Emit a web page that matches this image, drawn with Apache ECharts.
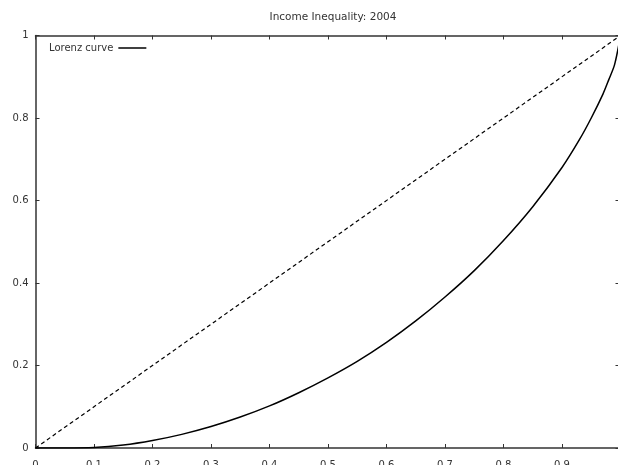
<!DOCTYPE html>
<html>
<head>
<meta charset="utf-8">
<script src="https://cdn.jsdelivr.net/npm/echarts@6/dist/echarts.min.js"></script>
<style>html,body{margin:0;padding:0;background:#fff;overflow:hidden;}#c{width:618px;height:465px;}</style>
</head>
<body>
<div id="c"></div>
<script>
var titleText = 'Income Inequality: 2004';
var seriesName = 'Lorenz curve';
var popShare = [0, 0.05, 0.1, 0.15, 0.2, 0.25, 0.3, 0.35, 0.4, 0.45, 0.5, 0.55, 0.6, 0.65, 0.7, 0.75, 0.8, 0.85, 0.9, 0.93, 0.95, 0.97, 0.98, 0.99, 1.0];
var incomeShare = [0, 0, 0.001, 0.007, 0.018, 0.033, 0.052, 0.075, 0.102, 0.134, 0.170, 0.210, 0.256, 0.308, 0.366, 0.430, 0.503, 0.585, 0.680, 0.748, 0.800, 0.858, 0.893, 0.930, 1.0];
var equalityX = [0, 1];
var equalityY = [0, 1];
var xTicks = [0, 0.1, 0.2, 0.3, 0.4, 0.5, 0.6, 0.7, 0.8, 0.9];
var yTicks = [0, 0.2, 0.4, 0.6, 0.8, 1];

function pairs(xs, ys) { return xs.map(function (x, i) { return [x, ys[i]]; }); }

var font = 'DejaVu Sans';
var axisLineStyle = { color: '#333', width: 1.5 };
var chart = echarts.init(document.getElementById('c'));
chart.setOption({
  animation: false,
  backgroundColor: '#fff',
  textStyle: { fontFamily: font },
  title: {
    text: titleText, left: 328, top: 7, textAlign: 'center',
    textStyle: { fontFamily: font, fontSize: 10.5, fontWeight: 'normal', color: '#333' }
  },
  legend: {
    data: [{ name: seriesName, icon: 'rect' }], left: 44, top: 38, align: 'right',
    itemWidth: 28, itemHeight: 1.5, itemGap: 4,
    textStyle: { fontFamily: font, fontSize: 10, color: '#333' }
  },
  grid: { left: 35.5, right: -2.5, top: 35.5, bottom: 17, containLabel: false, outerBoundsMode: 'none' },
  xAxis: [{
    type: 'value', min: 0, max: 1, interval: 0.1, position: 'bottom',
    axisLine: { show: true, onZero: false, lineStyle: axisLineStyle },
    axisTick: { show: true, inside: true, length: 4, lineStyle: { color: '#333' } },
    axisLabel: { show: true, margin: 12, fontSize: 10, color: '#333', fontFamily: font, showMaxLabel: false,
      formatter: function (v) { var r = Math.round(v * 10) / 10; return xTicks.indexOf(r) >= 0 ? String(r) : ''; } },
    splitLine: { show: false }
  }, {
    type: 'value', min: 0, max: 1, interval: 0.1, position: 'top',
    axisLine: { show: true, onZero: false, lineStyle: axisLineStyle },
    axisTick: { show: true, inside: true, length: 4, lineStyle: { color: '#333' } },
    axisLabel: { show: false }, splitLine: { show: false }
  }],
  yAxis: [{
    type: 'value', min: 0, max: 1, interval: 0.2, position: 'left',
    axisLine: { show: true, onZero: false, lineStyle: axisLineStyle },
    axisTick: { show: true, inside: true, length: 4, lineStyle: { color: '#333' } },
    axisLabel: { show: true, margin: 7, fontSize: 10, color: '#333', fontFamily: font,
      formatter: function (v) { var r = Math.round(v * 10) / 10; return yTicks.indexOf(r) >= 0 ? String(r) : ''; } },
    splitLine: { show: false }
  }, {
    type: 'value', min: 0, max: 1, interval: 0.2, position: 'right',
    axisLine: { show: true, onZero: false, lineStyle: axisLineStyle },
    axisTick: { show: true, inside: true, length: 5, lineStyle: { color: '#333' } },
    axisLabel: { show: false }, splitLine: { show: false }
  }],
  series: [{
    name: seriesName, type: 'line', data: pairs(popShare, incomeShare),
    showSymbol: false, symbol: 'none', smooth: 0.3,
    lineStyle: { color: '#000', width: 1.5 }, itemStyle: { color: '#000' }
  }, {
    name: 'equality', type: 'line', data: pairs(equalityX, equalityY),
    showSymbol: false, symbol: 'none',
    lineStyle: { color: '#000', width: 1.2, type: [4, 3] }, itemStyle: { color: '#000' }
  }]
});
</script>
</body>
</html>
